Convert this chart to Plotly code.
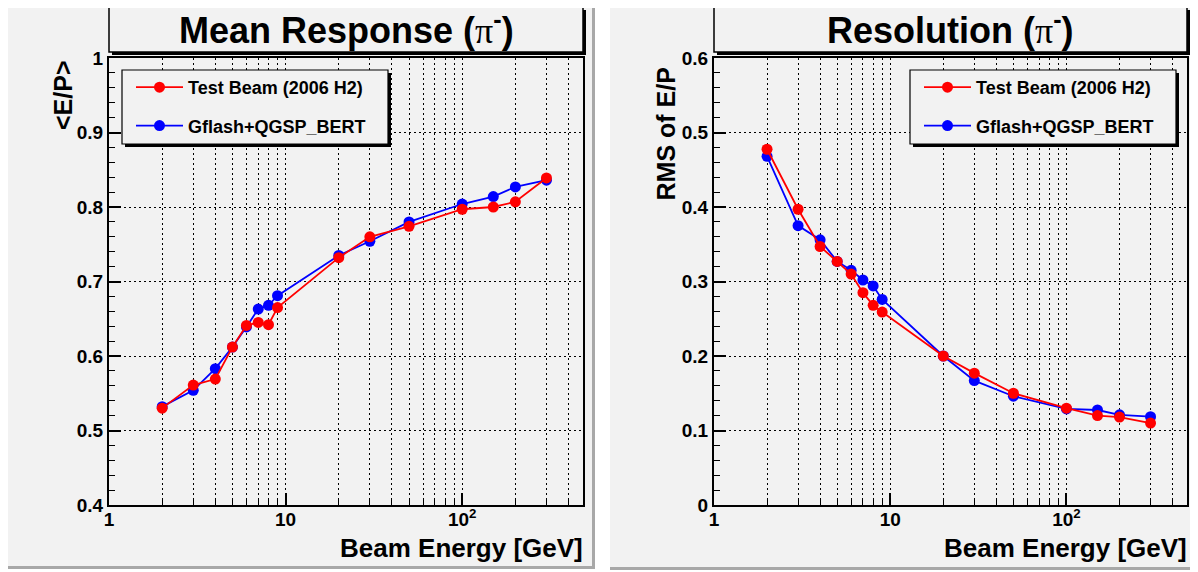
import plotly.graph_objects as go

# ---------------- data ----------------
energy = [2, 3, 4, 5, 6, 7, 8, 9, 20, 30, 50, 100, 150, 200, 300]
mean_testbeam = [0.530, 0.561, 0.569, 0.612, 0.641, 0.645, 0.642, 0.665,
                 0.732, 0.760, 0.774, 0.797, 0.800, 0.807, 0.839]
mean_gflash = [0.532, 0.554, 0.583, 0.612, 0.639, 0.663, 0.668, 0.681,
               0.735, 0.754, 0.780, 0.804, 0.814, 0.827, 0.836]
res_testbeam = [0.4775, 0.397, 0.347, 0.327, 0.310, 0.285, 0.268, 0.259,
                0.200, 0.177, 0.150, 0.130, 0.120, 0.118, 0.110]
res_gflash = [0.468, 0.375, 0.356, 0.327, 0.315, 0.302, 0.294, 0.276,
              0.200, 0.167, 0.146, 0.129, 0.1275, 0.121, 0.1185]

x_major_vals = [1, 10, 100]
x_major_text = ["1", "10", "10<sup>2</sup>"]
x_minor_vals = [2, 3, 4, 5, 6, 7, 8, 9, 20, 30, 40, 50, 60, 70, 80, 90, 200, 300, 400]

series_names = ["Test Beam (2006 H2)", "Gflash+QGSP_BERT"]
series_colors = ["#ff0000", "#0000ff"]
titles = ["Mean Response (", "Resolution ("]
ytitles = ["&lt;E/P&gt;", "RMS of E/P"]
xtitle = "Beam Energy [GeV]"

# page body has an 8px margin: the figure is sized to the visible area
OFF = 8
W, H = 1198 - OFF, 572 - OFF
FONT = "Liberation Sans, Arial, Helvetica, sans-serif"
PAD = "#f2f2f2"


def X(px):
    return (px - OFF) / W


def Y(py):
    return 1 - (py - OFF) / H


fig = go.Figure()

panels = [
    dict(xa="x", ya="y", leg="legend", vals=(mean_testbeam, mean_gflash)),
    dict(xa="x2", ya="y2", leg="legend2", vals=(res_testbeam, res_gflash)),
]
for p in panels:
    # blue drawn first, red on top
    for idx in (1, 0):
        fig.add_trace(go.Scatter(
            x=energy, y=p["vals"][idx], mode="lines+markers",
            name=series_names[idx], legend=p["leg"], legendrank=idx + 1,
            legendgroup=f"g{idx}",
            line=dict(color=series_colors[idx], width=1.8),
            marker=dict(color=series_colors[idx], size=11, symbol="circle"),
            xaxis=p["xa"], yaxis=p["ya"], hoverinfo="skip",
        ))

grid_dash = "2px,3px"
xcommon = dict(
    type="log", range=[0, 2.684], automargin=False,
    tickmode="array", tickvals=x_major_vals, ticktext=x_major_text,
    ticks="inside", ticklen=12, tickwidth=1.5, tickcolor="black",
    ticklabelstandoff=-4,
    showgrid=True, gridcolor="black", gridwidth=1, griddash=grid_dash,
    minor=dict(tickmode="array", tickvals=x_minor_vals, ticks="inside",
               ticklen=6, tickwidth=1, tickcolor="black",
               showgrid=True, gridcolor="black", gridwidth=1, griddash=grid_dash),
    showline=True, linecolor="black", linewidth=2, mirror=True,
    zeroline=False,
    tickfont=dict(family=FONT, size=19, color="black", weight="bold"),
)
ycommon = dict(
    dtick=0.1, ticks="inside", ticklen=12, tickwidth=1.5, tickcolor="black",
    automargin=False,
    showgrid=True, gridcolor="black", gridwidth=1, griddash=grid_dash,
    minor=dict(dtick=0.02, ticks="inside", ticklen=6, tickwidth=1,
               tickcolor="black", showgrid=False),
    showline=True, linecolor="black", linewidth=2, mirror=True,
    zeroline=False,
    tickfont=dict(family=FONT, size=19, color="black", weight="bold"),
)

frame_l = (109, 583)
frame_r = (714, 1187)
frame_top, frame_bot = 58, 505

fig.update_layout(
    template="none",
    xaxis=dict(domain=[X(frame_l[0]), X(frame_l[1])], anchor="y", **xcommon),
    yaxis=dict(domain=[Y(frame_bot), Y(frame_top)], anchor="x", range=[0.4, 1.0], **ycommon),
    xaxis2=dict(domain=[X(frame_r[0]), X(frame_r[1])], anchor="y2", **xcommon),
    yaxis2=dict(domain=[Y(frame_bot), Y(frame_top)], anchor="x2", range=[0.0, 0.6], **ycommon),
)

legend_common = dict(
    xanchor="left", yanchor="top", bgcolor="rgba(0,0,0,0)", borderwidth=0,
    font=dict(family=FONT, size=18, color="black", weight="bold"),
    traceorder="grouped", tracegroupgap=12, itemwidth=47,
)
fig.update_layout(
    legend=dict(x=X(131), y=Y(69), **legend_common),
    legend2=dict(x=X(919), y=Y(69), **legend_common),
)

shapes = []


def rect(x0, y0, x1, y1, fill=None, line=None, lw=0, layer="below"):
    d = dict(type="rect", xref="paper", yref="paper",
             x0=X(x0), x1=X(x1), y0=Y(y1), y1=Y(y0), layer=layer,
             line=dict(width=lw, color=line if line else "rgba(0,0,0,0)"))
    d["fillcolor"] = fill if fill else "rgba(0,0,0,0)"
    shapes.append(d)


# pads with bevel borders
rect(3, 3, 592, 566, fill=PAD)
rect(592, 3, 595, 569, fill="#a8a8a8")
rect(3, 566, 595, 569, fill="#a8a8a8")
rect(610, 4, 1195, 567, fill=PAD)
rect(1195, 4, 1198, 570, fill="#a8a8a8")
rect(610, 567, 1198, 570, fill="#a8a8a8")

# title boxes with shadow
for (fx0, fx1) in (frame_l, frame_r):
    rect(fx0 + 3, 10, fx1 + 3, 55, fill="black")
    rect(fx0, 7, fx1, 52, fill=PAD, line="black", lw=1.5)

# legend boxes with shadow (above grid)
for lx0 in (122, 910):
    rect(lx0 + 3, 73, lx0 + 266 + 3, 147, fill="black", layer="above")
    rect(lx0, 70, lx0 + 266, 144, fill=PAD, line="black", lw=1.2, layer="above")

fig.update_layout(shapes=shapes)

annotations = []
pi = "<span style=\"font-family:'Liberation Serif';font-weight:normal\">π</span>"
for i, (fx0, fx1) in enumerate((frame_l, frame_r)):
    annotations.append(dict(
        text=titles[i] + pi + "<sup>-</sup>)", xref="paper", yref="paper",
        x=X((fx0 + fx1) / 2), y=Y(28), xanchor="center", yanchor="middle",
        showarrow=False, font=dict(family=FONT, size=36, color="black", weight="bold"),
    ))
    annotations.append(dict(
        text=xtitle, xref="paper", yref="paper",
        x=X(fx1 + 2), y=Y(548), xanchor="right", yanchor="middle",
        showarrow=False, font=dict(family=FONT, size=26, color="black", weight="bold"),
    ))
annotations.append(dict(
    text=ytitles[0], xref="paper", yref="paper", x=X(63), y=Y(58),
    xanchor="center", yanchor="top", textangle=-90, showarrow=False,
    font=dict(family=FONT, size=25, color="black", weight="bold"),
))
annotations.append(dict(
    text=ytitles[1], xref="paper", yref="paper", x=X(665), y=Y(66),
    xanchor="center", yanchor="top", textangle=-90, showarrow=False,
    font=dict(family=FONT, size=25, color="black", weight="bold"),
))

fig.update_layout(
    annotations=annotations,
    width=W, height=H, autosize=False,
    margin=dict(l=0, r=0, t=0, b=0, pad=0),
    paper_bgcolor="white", plot_bgcolor="rgba(0,0,0,0)",
    showlegend=True, hovermode=False,
    font=dict(family=FONT, color="black"),
)

fig.write_html("out.html", config={"displayModeBar": False})
